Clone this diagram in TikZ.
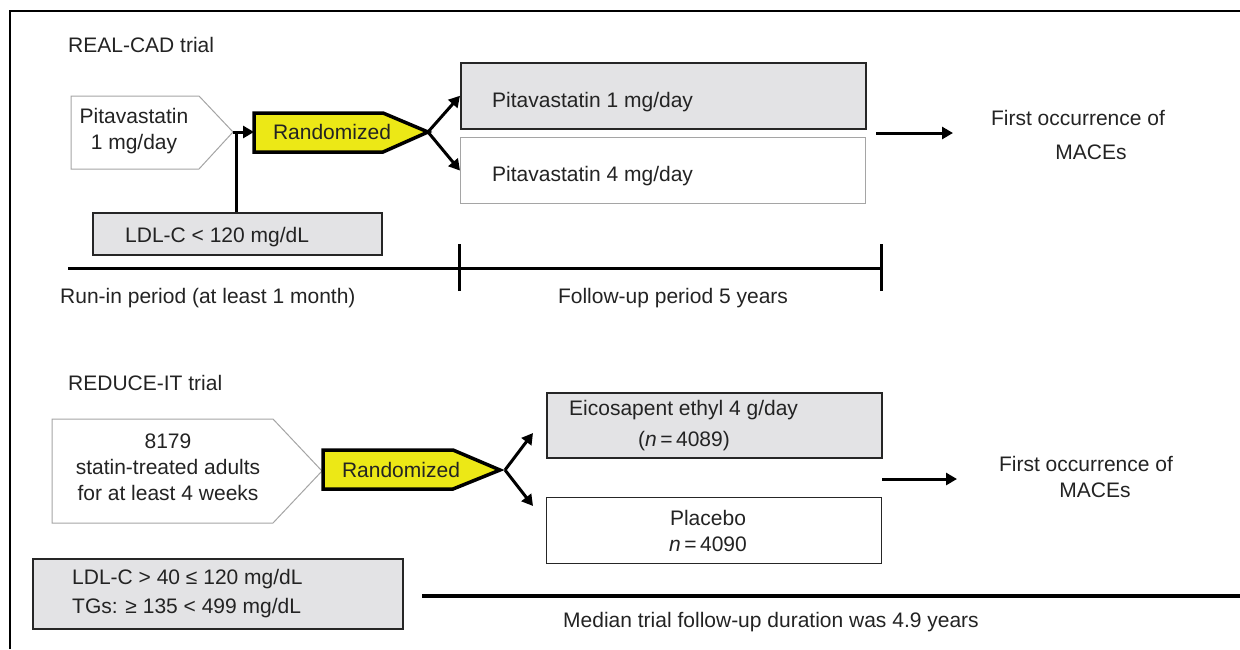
\documentclass[tikz,border=0pt]{standalone}
\usepackage{fontspec}
\setmainfont{Liberation Sans}
\usetikzlibrary{arrows.meta}
\definecolor{boxgray}{RGB}{227,227,229}
\definecolor{ryellow}{RGB}{236,232,22}
\definecolor{txtc}{RGB}{35,35,35}
\definecolor{lgray}{RGB}{165,165,165}
\begin{document}
\begin{tikzpicture}[x=1pt,y=-1pt,
  every node/.style={text=txtc, inner sep=0pt, font=\fontsize{21}{26}\selectfont},
  lbl/.style={anchor=west},
  thickarr/.style={line width=3pt, -{Triangle[length=11pt,width=12pt]}},
  thickline/.style={line width=3pt},
  grayrect/.style={draw=black!85, line width=1.5pt, fill=boxgray, anchor=north west},
  whiterect/.style={draw=lgray, line width=1.2pt, fill=white, anchor=north west},
  whiterectdark/.style={draw=black!85, line width=1.2pt, fill=white, anchor=north west},
  penta/.style={draw=lgray, line width=1pt, fill=white},
  randbox/.style={draw=black, line width=3.5pt, fill=ryellow, line join=miter},
]
\useasboundingbox (0,0) rectangle (1240,649);
% frame
\draw[line width=2pt] (10,649) -- (10,11) -- (1240,11);

% ---------------- REAL-CAD ----------------
\node[lbl] (realcad) at (68,45) {REAL-CAD trial};

\draw[penta] (71,96) -- (199,96) -- (233,132) -- (199,169) -- (71,169) -- cycle;
\node[align=center] (pita) at (134,131) {Pitavastatin\\1 mg/day};
\coordinate (pitatip) at (233,132);

\draw[randbox] (254,113) -- (383,113) -- (428,132) -- (383,152) -- (254,152) -- cycle;
\node (rand1) at (332,132) {Randomized};
\coordinate (rand1w) at (254,132);
\coordinate (rand1tip) at (428,132);

\node[grayrect, minimum width=289, minimum height=42] (ldl) at (92,212) {};
\node[lbl] (ldltxt) at (125,237) {LDL-C < 120 mg/dL};

\draw[thickline] (ldl.north -| 236,0) -- (236,132);
\draw[thickarr] (pitatip) -- (rand1w);

\node[grayrect, minimum width=405, minimum height=66] (p1) at (460,62) {};
\node[lbl] (p1txt) at (492,102) {Pitavastatin 1 mg/day};
\node[whiterect, minimum width=405, minimum height=66] (p4) at (460,137) {};
\node[lbl] (p4txt) at (492,176) {Pitavastatin 4 mg/day};

\draw[thickarr] (rand1tip) -- (p1.west);
\draw[thickarr] (rand1tip) -- (p4.west);

\coordinate (o1s) at (876,133);
\coordinate (o1e) at (953,133);
\draw[thickarr] (o1s) -- (o1e);
\node[align=center] (mace1) at (1078,135) {First occurrence of\\[8pt]\hspace*{26pt}MACEs};

% timeline
\coordinate (tl0) at (68,268);
\coordinate (tl1) at (459,268);
\coordinate (tl2) at (881,268);
\draw[thickline] (tl0) -- (tl2);
\draw[thickline] ([yshift=-23]tl1) -- ([yshift=24]tl1);
\draw[thickline] ([yshift=-23]tl2) -- ([yshift=24]tl2);
\node[lbl] (runin) at (60,298) {Run-in period (at least 1 month)};
\node (fu) at (673,298) {Follow-up period 5 years};

% ---------------- REDUCE-IT ----------------
\node[lbl] (reduce) at (68,383) {REDUCE-IT trial};

\draw[penta] (52,419) -- (273,419) -- (322,471) -- (273,523) -- (52,523) -- cycle;
\node[align=center] (adults) at (168,467) {8179\\statin-treated adults\\for at least 4 weeks};

\draw[randbox] (323,450) -- (453,450) -- (500,470) -- (453,489) -- (323,489) -- cycle;
\node (rand2) at (401,470) {Randomized};

\coordinate (br) at (505,470);
\coordinate (br1) at (533,433);
\coordinate (br2) at (533,506);
\draw[thickarr] (br) -- (br1);
\draw[thickarr] (br) -- (br2);

\node[grayrect, minimum width=335, minimum height=65] (epa) at (546,392) {};
\node[lbl] (epatxt) at (569,410) {Eicosapent ethyl 4 g/day};
\node (epan) at (684,441) {(\textit{n}\,=\,4089)};

\node[whiterectdark, minimum width=335, minimum height=66] (plac) at (546,497) {};
\node[align=center] (plactxt) at (708,531) {Placebo\\\textit{n}\,=\,4090};

\coordinate (o2s) at (882,479);
\coordinate (o2e) at (957,479);
\draw[thickarr] (o2s) -- (o2e);
\node[align=center] (mace2) at (1086,477) {First occurrence of\\\hspace*{18pt}MACEs};

\node[grayrect, minimum width=370, minimum height=70] (crit) at (32,558) {};
\node[lbl] (crit1) at (72,579) {LDL-C > 40 ≤ 120 mg/dL};
\node[lbl] (crit2) at (72,608) {TGs: ≥ 135 < 499 mg/dL};

\coordinate (m0) at (422,596);
\coordinate (m1) at (1240,596);
\draw[line width=3.5pt] (m0) -- (m1);
\node (median) at (771,622) {Median trial follow-up duration was 4.9 years};
\end{tikzpicture}
\end{document}
